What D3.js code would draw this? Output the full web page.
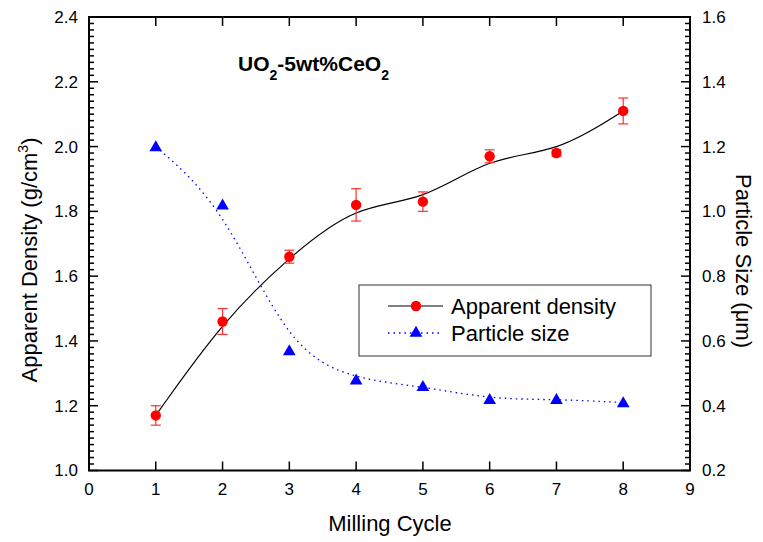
<!DOCTYPE html>
<html>
<head>
<meta charset="utf-8">
<script src="https://cdn.jsdelivr.net/npm/d3@7"></script>
<style>
body { margin: 0; background: #fff; }
svg { font-family: Arial, "Liberation Sans", sans-serif; }
</style>
</head>
<body>
<svg width="763" height="542"></svg>
<script>
var cycles = [1, 2, 3, 4, 5, 6, 7, 8];
var density = [1.17, 1.46, 1.66, 1.82, 1.83, 1.97, 1.98, 2.11];
var densityErr = [0.03, 0.04, 0.02, 0.05, 0.03, 0.02, 0.01, 0.04];
var particleSize = [1.20, 1.02, 0.57, 0.48, 0.46, 0.42, 0.42, 0.41];
var xTicks = [0, 1, 2, 3, 4, 5, 6, 7, 8, 9];
var leftTicks = [1.0, 1.2, 1.4, 1.6, 1.8, 2.0, 2.2, 2.4];
var rightTicks = [0.2, 0.4, 0.6, 0.8, 1.0, 1.2, 1.4, 1.6];

var svg = d3.select("svg");
var pL = 89, pR = 690, pT = 17, pB = 470.5;

var x = d3.scaleLinear().domain([0, 9]).range([pL, pR]);
var yL = d3.scaleLinear().domain([1.0, 2.4]).range([pB, pT]);
var yR = d3.scaleLinear().domain([0.2, 1.6]).range([pB, pT]);

// minor ticks every 0.02
var minorL = d3.range(50, 121).map(function (d) { return d / 50; }).filter(function (d) { return Math.round(d * 50) % 10 !== 0; });
var minorR = d3.range(10, 81).map(function (d) { return d / 50; }).filter(function (d) { return Math.round(d * 50) % 10 !== 0; });

var g = svg.append("g");

// ticks
function tickLines(vals, fn, w) {
    g.append("g").selectAll("line").data(vals).join("line")
        .each(fn)
        .attr("stroke", "#000").attr("stroke-width", w);
}
tickLines(minorL, function (d) { d3.select(this).attr("x1", pL).attr("x2", pL + 5).attr("y1", yL(d)).attr("y2", yL(d)); }, 1.5);
tickLines(leftTicks, function (d) { d3.select(this).attr("x1", pL).attr("x2", pL + 9).attr("y1", yL(d)).attr("y2", yL(d)); }, 1.5);
tickLines(minorR, function (d) { d3.select(this).attr("x1", pR).attr("x2", pR - 5).attr("y1", yR(d)).attr("y2", yR(d)); }, 1.5);
tickLines(rightTicks, function (d) { d3.select(this).attr("x1", pR).attr("x2", pR - 9).attr("y1", yR(d)).attr("y2", yR(d)); }, 1.5);
tickLines(xTicks, function (d) { d3.select(this).attr("x1", x(d)).attr("x2", x(d)).attr("y1", pB).attr("y2", pB - 9); }, 1.5);
tickLines(xTicks, function (d) { d3.select(this).attr("x1", x(d)).attr("x2", x(d)).attr("y1", pT).attr("y2", pT + 9); }, 1.5);

g.append("rect").attr("x", pL).attr("y", pT).attr("width", pR - pL).attr("height", pB - pT)
    .attr("fill", "none").attr("stroke", "#000").attr("stroke-width", 2);

// tick labels
g.append("g").selectAll("text").data(leftTicks).join("text")
    .attr("x", pL - 11).attr("y", function (d) { return yL(d); }).attr("dy", "0.35em")
    .attr("text-anchor", "end").attr("font-size", 17).text(function (d) { return d.toFixed(1); });
g.append("g").selectAll("text").data(rightTicks).join("text")
    .attr("x", pR + 12).attr("y", function (d) { return yR(d); }).attr("dy", "0.35em")
    .attr("text-anchor", "start").attr("font-size", 17).text(function (d) { return d.toFixed(1); });
g.append("g").selectAll("text").data(xTicks).join("text")
    .attr("x", function (d) { return x(d); }).attr("y", 489).attr("dy", "0.35em")
    .attr("text-anchor", "middle").attr("font-size", 17).text(function (d) { return d; });

// axis titles
g.append("text").attr("x", 390).attr("y", 523).attr("dy", "0.35em")
    .attr("text-anchor", "middle").attr("font-size", 22).text("Milling Cycle");
var lt = g.append("text").attr("transform", "translate(37,260) rotate(-90)")
    .attr("text-anchor", "middle").attr("font-size", 22);
lt.append("tspan").text("Apparent Density (g/cm");
lt.append("tspan").attr("dy", -9).attr("font-size", 14).text("3");
lt.append("tspan").attr("dy", 9).text(")");
g.append("text").attr("transform", "translate(736,261) rotate(90)")
    .attr("text-anchor", "middle").attr("font-size", 22).text("Particle Size (\u03bcm)");

// title
var tt = g.append("text").attr("x", 238).attr("y", 71).attr("font-size", 21).attr("font-weight", "bold");
tt.append("tspan").text("UO");
tt.append("tspan").attr("dy", 9).attr("font-size", 14).text("2");
tt.append("tspan").attr("dy", -9).text("-5wt%CeO");
tt.append("tspan").attr("dy", 9).attr("font-size", 14).text("2");

// curves
var dLine = d3.line().curve(d3.curveBasis)
    .x(function (d, i) { return x(cycles[i]); }).y(function (d) { return yL(d); });
var pLine = d3.line().curve(d3.curveBasis)
    .x(function (d, i) { return x(cycles[i]); }).y(function (d) { return yR(d); });

g.append("path").attr("d", pLine(particleSize)).attr("fill", "none")
    .attr("stroke", "#0000ff").attr("stroke-width", 1.3).attr("stroke-dasharray", "1.5,4");
g.append("path").attr("d", dLine(density)).attr("fill", "none")
    .attr("stroke", "#000").attr("stroke-width", 1.2);

// error bars
var eb = g.append("g").attr("stroke", "#ff3030").attr("stroke-width", 1.2);
density.forEach(function (d, i) {
    var cx = x(cycles[i]), y1 = yL(d - densityErr[i]), y2 = yL(d + densityErr[i]);
    eb.append("line").attr("x1", cx).attr("x2", cx).attr("y1", y1).attr("y2", y2);
    eb.append("line").attr("x1", cx - 5).attr("x2", cx + 5).attr("y1", y1).attr("y2", y1);
    eb.append("line").attr("x1", cx - 5).attr("x2", cx + 5).attr("y1", y2).attr("y2", y2);
});

// markers
var tri = d3.symbol().type(d3.symbolTriangle).size(70);
g.append("g").selectAll("path").data(particleSize).join("path")
    .attr("d", tri)
    .attr("transform", function (d, i) { return "translate(" + x(cycles[i]) + "," + (yR(d) + 1) + ")"; })
    .attr("fill", "#0000ff");
g.append("g").selectAll("circle").data(density).join("circle")
    .attr("cx", function (d, i) { return x(cycles[i]); }).attr("cy", function (d) { return yL(d); })
    .attr("r", 5.2).attr("fill", "#ff0000");

// legend
var lg = g.append("g");
lg.append("rect").attr("x", 359).attr("y", 285).attr("width", 292).attr("height", 71)
    .attr("fill", "#fff").attr("stroke", "#333").attr("stroke-width", 1);
lg.append("line").attr("x1", 388).attr("x2", 443).attr("y1", 306).attr("y2", 306).attr("stroke", "#000").attr("stroke-width", 1.2);
lg.append("circle").attr("cx", 416).attr("cy", 306).attr("r", 5.2).attr("fill", "#ff0000");
lg.append("text").attr("x", 451).attr("y", 306).attr("dy", "0.35em").attr("font-size", 22).text("Apparent density");
lg.append("line").attr("x1", 388).attr("x2", 443).attr("y1", 333).attr("y2", 333)
    .attr("stroke", "#0000ff").attr("stroke-width", 1.3).attr("stroke-dasharray", "1.5,4");
lg.append("path").attr("d", tri).attr("transform", "translate(416,333)").attr("fill", "#0000ff");
lg.append("text").attr("x", 451).attr("y", 333).attr("dy", "0.35em").attr("font-size", 22).text("Particle size");
</script>
</body>
</html>
